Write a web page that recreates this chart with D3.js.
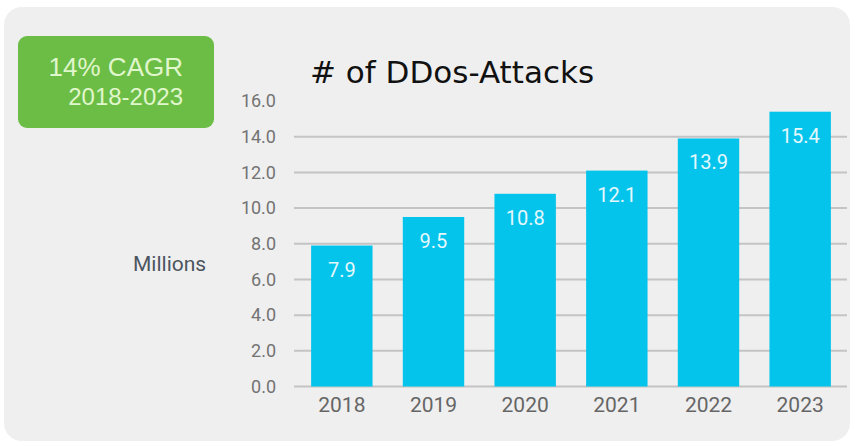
<!DOCTYPE html>
<html>
<head>
<meta charset="utf-8">
<script src="https://cdn.jsdelivr.net/npm/d3@7"></script>
<style>
  html, body { margin: 0; padding: 0; background: #ffffff; }
  svg { display: block; }
</style>
</head>
<body>
<svg id="chart" width="857" height="446"></svg>
<script>
// Annual DDoS attacks, in millions
const years = ["2018", "2019", "2020", "2021", "2022", "2023"];
const attacks = [7.9, 9.5, 10.8, 12.1, 13.9, 15.4];
const yTicks = [0, 2, 4, 6, 8, 10, 12, 14, 16];
const gridTicks = [0, 2, 4, 6, 8, 10, 12, 14];
const titleText = "# of DDos-Attacks";
const unitText = "Millions";
const badgeLines = ["14% CAGR", "2018-2023"];

const svg = d3.select("#chart");

// card background
svg.append("rect")
  .attr("x", 4).attr("y", 7)
  .attr("width", 846).attr("height", 434)
  .attr("rx", 18)
  .attr("fill", "#efefef");

const x = d3.scaleBand()
  .domain(years)
  .range([296, 846])
  .paddingInner(0.33)
  .paddingOuter(0.165);

const y = d3.scaleLinear()
  .domain([0, 16])
  .range([386.5, 101]);

// horizontal grid lines
svg.append("g")
  .selectAll("line")
  .data(gridTicks)
  .join("line")
  .attr("x1", 294).attr("x2", 847)
  .attr("y1", d => y(d)).attr("y2", d => y(d))
  .attr("stroke", "#c4c4c4")
  .attr("stroke-width", 2);

// y-axis labels
const yAxis = d3.axisLeft(y).tickValues(yTicks).tickFormat(d3.format(".1f")).tickSize(0).tickPadding(0);
const yg = svg.append("g").attr("transform", "translate(276,0)").call(yAxis);
yg.select(".domain").remove();
yg.selectAll("text")
  .attr("font-family", "Roboto, sans-serif")
  .attr("font-size", 18)
  .attr("fill", "#737373");

// bars
svg.append("g")
  .selectAll("rect")
  .data(attacks)
  .join("rect")
  .attr("x", (d, i) => x(years[i]))
  .attr("width", x.bandwidth())
  .attr("y", d => y(d))
  .attr("height", d => y(0) - y(d))
  .attr("fill", "#04c4ec");

// value labels inside bars
svg.append("g")
  .selectAll("text")
  .data(attacks)
  .join("text")
  .attr("x", (d, i) => x(years[i]) + x.bandwidth() / 2)
  .attr("y", d => y(d) + 31)
  .attr("text-anchor", "middle")
  .attr("font-family", "Roboto, sans-serif")
  .attr("font-size", 20)
  .attr("fill", "#e4f8fd")
  .text(d => d3.format(".1f")(d));

// x-axis labels
const xAxis = d3.axisBottom(x).tickSize(0).tickPadding(0);
const xg = svg.append("g").attr("transform", "translate(0,397)").call(xAxis);
xg.select(".domain").remove();
xg.selectAll("text")
  .attr("font-family", "Roboto, sans-serif")
  .attr("font-size", 21)
  .attr("fill", "#666666");

// title
svg.append("text")
  .attr("x", 310).attr("y", 82.5)
  .attr("font-family", "'DejaVu Sans', sans-serif")
  .attr("font-size", 31)
  .attr("fill", "#111111")
  .attr("xml:space", "preserve")
  .text(titleText);

// unit label
svg.append("text")
  .attr("x", 133).attr("y", 270.5)
  .attr("font-family", "Roboto, sans-serif")
  .attr("font-size", 21)
  .attr("fill", "#4b5560")
  .text(unitText);

// CAGR badge
svg.append("rect")
  .attr("x", 18).attr("y", 36)
  .attr("width", 196).attr("height", 92)
  .attr("rx", 9)
  .attr("fill", "#6cbd46");

svg.append("g")
  .selectAll("text")
  .data(badgeLines)
  .join("text")
  .attr("x", 183)
  .attr("y", (d, i) => i === 0 ? 76 : 105)
  .attr("text-anchor", "end")
  .attr("font-family", "'Liberation Sans', Arial, sans-serif")
  .attr("font-size", (d, i) => i === 0 ? 26 : 24)
  .attr("fill", "#e0f6cc")
  .text(d => d);
</script>
</body>
</html>
